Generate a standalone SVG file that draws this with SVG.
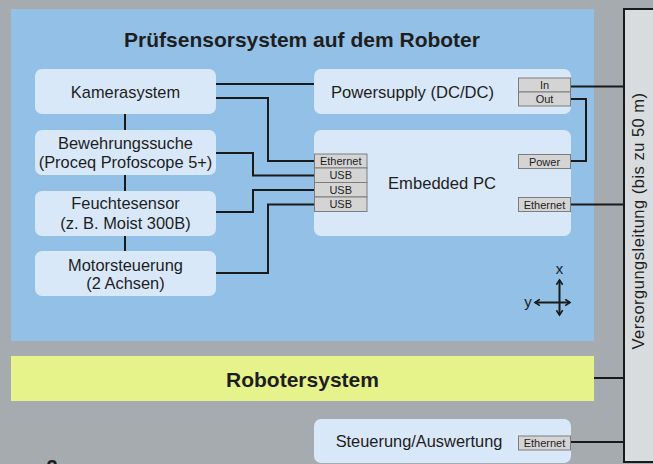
<svg xmlns="http://www.w3.org/2000/svg" width="653" height="464" viewBox="0 0 653 464">
  <style>
    text { font-family: "Liberation Sans", Arial, sans-serif; fill: #1e1e1e; }
    .node { fill: #d9e8f8; }
    .lbl { font-size: 16.4px; text-anchor: middle; }
    .big { font-size: 16.6px; text-anchor: middle; }
    .bold { font-weight: bold; font-size: 21px; text-anchor: middle; }
    .port { fill: #d4d4d4; stroke: #7d7d7d; stroke-width: 1; }
    .ptxt { font-size: 11px; text-anchor: middle; }
    .wire { fill: none; stroke: #1a1a1a; stroke-width: 2; }
    .axis { fill: none; stroke: #1a1a1a; stroke-width: 2; }
  </style>
  <defs>
    <marker id="chev" viewBox="0 0 10 10" refX="7" refY="5" markerWidth="4" markerHeight="4" orient="auto-start-reverse" markerUnits="strokeWidth">
      <path d="M1,1 L7,5 L1,9" fill="none" stroke="#1a1a1a" stroke-width="2"/>
    </marker>
  </defs>

  <!-- background -->
  <rect x="0" y="0" width="653" height="464" fill="#a5abae"/>

  <!-- sensor system panel -->
  <g id="panel">
    <rect x="11" y="9" width="583" height="332" fill="#93c0e6"/>
    <text class="bold" x="302" y="47">Prüfsensorsystem auf dem Roboter</text>
  </g>

  <!-- robot system band -->
  <g id="robotersystem">
    <rect x="11" y="356" width="583" height="45" fill="#e6f28a"/>
    <text class="bold" x="302.5" y="387">Robotersystem</text>
  </g>

  <!-- supply cable -->
  <g id="versorgung">
    <rect x="624" y="9" width="40" height="453" fill="#d9dcdf" stroke="#1a1a1a" stroke-width="2"/>
    <text transform="translate(643.5,221) rotate(-90)" font-size="16.5" letter-spacing="0.5" text-anchor="middle">Versorgungsleitung (bis zu 50 m)</text>
  </g>

  <!-- connectors -->
  <g id="connectors">
    <line class="wire" x1="125" y1="114" x2="125" y2="251"/>
    <line class="wire" x1="216" y1="84" x2="314" y2="84"/>
    <polyline class="wire" points="216,98 268,98 268,161 314,161"/>
    <polyline class="wire" points="216,153 253,153 253,175.5 314,175.5"/>
    <polyline class="wire" points="216,212 253,212 253,190 314,190"/>
    <polyline class="wire" points="216,273 268,273 268,204.5 314,204.5"/>
    <line class="wire" x1="571" y1="86.5" x2="624" y2="86.5"/>
    <polyline class="wire" points="571,99 586,99 586,161 571,161"/>
    <line class="wire" x1="571" y1="204.5" x2="624" y2="204.5"/>
    <line class="wire" x1="594" y1="378" x2="624" y2="378"/>
    <line class="wire" x1="571" y1="442" x2="624" y2="442"/>
  </g>

  <g id="kamerasystem">
    <rect class="node" x="35" y="69" width="181" height="45" rx="7"/>
    <text class="lbl" x="125.5" y="98">Kamerasystem</text>
  </g>

  <g id="bewehrungssuche">
    <rect class="node" x="35" y="130" width="181" height="45" rx="7"/>
    <text class="lbl" x="125.5" y="149">Bewehrungssuche</text>
    <text class="lbl" x="125.5" y="168">(Proceq Profoscope 5+)</text>
  </g>

  <g id="feuchtesensor">
    <rect class="node" x="35" y="191" width="181" height="45" rx="7"/>
    <text class="lbl" x="125.5" y="209">Feuchtesensor</text>
    <text class="lbl" x="125.5" y="228.5">(z. B. Moist 300B)</text>
  </g>

  <g id="motorsteuerung">
    <rect class="node" x="35" y="251" width="181" height="45" rx="7"/>
    <text class="lbl" x="125.5" y="270.5">Motorsteuerung</text>
    <text class="lbl" x="125.5" y="289">(2 Achsen)</text>
  </g>

  <g id="powersupply">
    <rect class="node" x="314" y="69" width="257" height="45" rx="7"/>
    <text class="big" x="412.5" y="98">Powersupply (DC/DC)</text>
    <rect class="port" x="518.5" y="78" width="52" height="14"/>
    <text class="ptxt" x="544.5" y="89">In</text>
    <rect class="port" x="518.5" y="92" width="52" height="14"/>
    <text class="ptxt" x="544.5" y="103">Out</text>
  </g>

  <g id="embedded-pc">
    <rect class="node" x="314" y="130" width="257" height="106" rx="7"/>
    <text class="big" x="442" y="189">Embedded PC</text>
    <rect class="port" x="314.5" y="154" width="52.5" height="14"/>
    <text class="ptxt" x="340.7" y="165">Ethernet</text>
    <rect class="port" x="314.5" y="168" width="52.5" height="14.5"/>
    <text class="ptxt" x="340.7" y="179.2">USB</text>
    <rect class="port" x="314.5" y="182.5" width="52.5" height="14.5"/>
    <text class="ptxt" x="340.7" y="193.7">USB</text>
    <rect class="port" x="314.5" y="197" width="52.5" height="14.5"/>
    <text class="ptxt" x="340.7" y="208.2">USB</text>
    <rect class="port" x="518.5" y="154.5" width="52" height="14"/>
    <text class="ptxt" x="544.5" y="165.5">Power</text>
    <rect class="port" x="518.5" y="197.5" width="52" height="14"/>
    <text class="ptxt" x="544.5" y="208.5">Ethernet</text>
  </g>

  <g id="steuerung">
    <rect class="node" x="314" y="419" width="257" height="44" rx="7"/>
    <text class="lbl" x="419" y="447" font-size="17.2">Steuerung/Auswertung</text>
    <rect class="port" x="518.5" y="436" width="52" height="14"/>
    <text class="ptxt" x="544.5" y="447">Ethernet</text>
  </g>

  <!-- axis cross -->
  <g id="achsen">
    <line class="axis" x1="559.5" y1="280" x2="559.5" y2="315" marker-start="url(#chev)" marker-end="url(#chev)"/>
    <line class="axis" x1="535" y1="302.5" x2="570" y2="302.5" marker-start="url(#chev)" marker-end="url(#chev)"/>
    <text x="559.5" y="274" font-size="15" text-anchor="middle">x</text>
    <text x="528" y="307" font-size="15" text-anchor="middle">y</text>
  </g>

  <!-- figure number, running off the lower edge -->
  <text x="52" y="474" font-size="20" font-weight="bold" text-anchor="middle">2</text>
</svg>
